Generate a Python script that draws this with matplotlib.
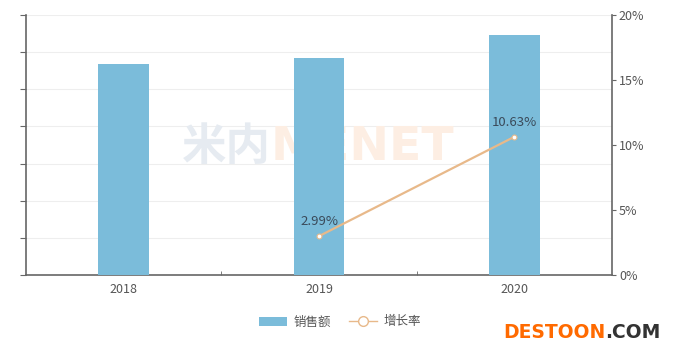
import numpy as np
import matplotlib.pyplot as plt
from matplotlib.patches import Patch
from matplotlib.lines import Line2D

plt.rcParams['font.family'] = ['Noto Sans CJK SC', 'DejaVu Sans']

# data
years = ['2018', '2019', '2020']
sales = [284.0, 292.5, 323.6]          # left axis, no labels shown
growth_years = ['2019', '2020']
growth = [2.99, 10.63]                 # percent

bar_color = '#7bbcda'
line_color = '#e8b98a'
axis_color = '#666666'
text_color = '#555555'

fig = plt.figure(figsize=(6.73, 3.55), dpi=100)
ax = fig.add_axes([26/673, 80/355, 586/673, 260/355])
ax2 = ax.twinx()

x = np.arange(len(years)) + 0.5
ax.bar(x, sales, width=0.26, color=bar_color, zorder=3)

ax.set_xlim(0, 3)
ax.set_ylim(0, 350)
ax.set_yticks(np.arange(0, 351, 50))
ax.set_yticklabels([])
ax.set_xticks(x)
ax.set_xticklabels(years, color=text_color, fontsize=9)
ax.set_xticks([1, 2], minor=True)
ax.tick_params(axis='x', which='major', length=0, pad=6)
ax.tick_params(axis='x', which='minor', length=3, color=axis_color, direction='in')
ax.tick_params(axis='y', length=4, color=axis_color)
ax.grid(axis='y', color='#eeeeee', lw=0.8, zorder=0)
ax.set_axisbelow(True)

for sp in ['top', 'right']:
    ax.spines[sp].set_visible(False)
for sp in ['left', 'bottom']:
    ax.spines[sp].set_color(axis_color)
    ax.spines[sp].set_linewidth(1.2)

# faint watermark behind the bars
ax.text(0.80, 172, '米内', fontsize=32, fontweight='bold', color='#e6ebf1',
        ha='left', va='center', zorder=1)
ax.text(1.25, 172, 'MENET', fontsize=34, fontweight='bold', color='#fdeee3',
        ha='left', va='center', zorder=1, family='DejaVu Sans')

# growth line
gx = [years.index(y) + 0.5 for y in growth_years]
ax2.plot(gx, growth, color=line_color, lw=1.6, marker='o', ms=3.5,
         mfc='white', mec=line_color, mew=0.8, zorder=5)
for xi, g in zip(gx, growth):
    ax2.text(xi, g + 0.6, f'{g:.2f}%', ha='center', va='bottom',
             fontsize=9.5, color='#3a4a5a')
ax2.set_ylim(0, 20)
ax2.set_yticks(np.arange(0, 21, 5))
ax2.set_yticklabels([f'{v}%' for v in range(0, 21, 5)], color=text_color, fontsize=9)
ax2.tick_params(axis='y', length=3, color=axis_color, pad=2)
for sp in ['top', 'left', 'bottom']:
    ax2.spines[sp].set_visible(False)
ax2.spines['right'].set_color(axis_color)
ax2.spines['right'].set_linewidth(1.2)

# legend
handles = [Patch(facecolor=bar_color, label='销售额'),
           Line2D([0], [0], color=line_color, lw=1, marker='o', ms=7,
                  mfc='white', mec=line_color, label='增长率')]
leg = fig.legend(handles=handles, loc='center', bbox_to_anchor=(340/673, 1 - 322/355),
                 ncol=2, frameon=False, fontsize=9, handlelength=2.2,
                 columnspacing=1.5, handletextpad=0.5)
for t in leg.get_texts():
    t.set_color(text_color)

# site mark, two colours
t1 = fig.text(503/673, 1 - 332/355, 'DESTOON', fontsize=13.5, fontweight='bold',
              color='#ff6a00', ha='left', va='center', family='DejaVu Sans')
fig.canvas.draw()
bb = t1.get_window_extent()
fig.text(bb.x1 / fig.bbox.width, 1 - 332/355, '.COM', fontsize=13.5, fontweight='bold',
         color='#333333', ha='left', va='center', family='DejaVu Sans')

fig.savefig('out.png', dpi=100)
